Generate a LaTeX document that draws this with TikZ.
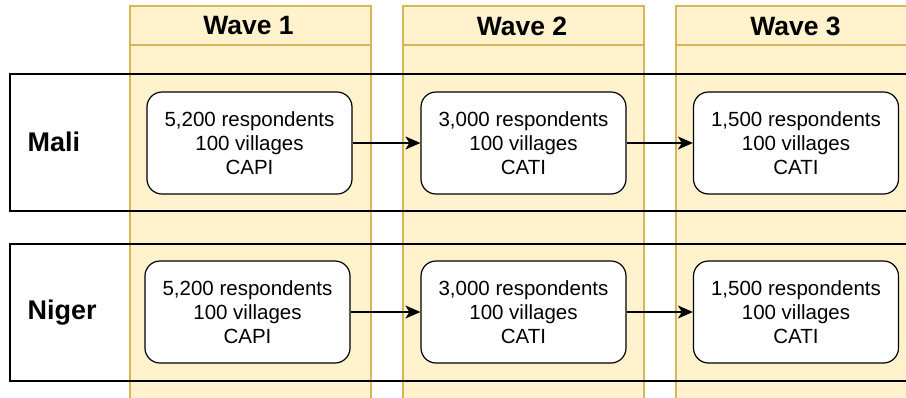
\documentclass[tikz,border=0pt]{standalone}
\usepackage{fontspec}
\setmainfont{Liberation Sans}
\usetikzlibrary{arrows.meta}
\definecolor{wfill}{HTML}{FFF2CC}
\definecolor{wdraw}{HTML}{D6B656}
\begin{document}
\begin{tikzpicture}[x=1pt,y=-1pt,
  lane/.style={fill=wfill,draw=wdraw,line width=1.2pt},
  head/.style={font=\fontsize{26.5}{30}\selectfont\bfseries,anchor=center},
  rowbox/.style={draw=black,line width=1.2pt},
  rowlabel/.style={font=\fontsize{27}{30}\selectfont\bfseries,anchor=west},
  cell/.style={draw=black,fill=white,line width=1.2pt,rounded corners=15pt,
    minimum width=205pt,minimum height=102pt,align=center,
    font=\fontsize{20.5}{24}\selectfont,inner sep=0pt},
  flow/.style={-{Stealth[length=15pt,width=13pt,inset=4pt]},line width=1.2pt}]
\useasboundingbox (0,0) rectangle (906,397);
\begin{scope}
\clip (0,0) rectangle (906,397);
% lanes
\foreach \x/\n in {130/1,403/2,676/3}{
  \draw[lane] (\x,6) rectangle (\x+241,420);
  \draw[lane] (\x,6) rectangle (\x+241,45);
}
\node[head] (w1) at (248.5,26) {Wave 1};
\node[head] (w2) at (522,26) {Wave 2};
\node[head] (w3) at (795.5,26) {Wave 3};
% rows
\draw[rowbox] (10,74) rectangle (930,211);
\draw[rowbox] (10,244) rectangle (930,381);
\end{scope}
\node[rowlabel] (mali) at (24,142) {Mali};
\node[rowlabel] (niger) at (24,313) {Niger};
% boxes
\node[cell] (m1) at (249.5,143) {5,200 respondents\\100 villages\\CAPI};
\node[cell] (m2) at (523.5,143) {3,000 respondents\\100 villages\\CATI};
\node[cell] (m3) at (796,143) {1,500 respondents\\100 villages\\CATI};
\node[cell] (n1) at (247.5,312) {5,200 respondents\\100 villages\\CAPI};
\node[cell] (n2) at (523.5,312) {3,000 respondents\\100 villages\\CATI};
\node[cell] (n3) at (796,312) {1,500 respondents\\100 villages\\CATI};
\draw[flow] (m1) -- (m2);
\draw[flow] (m2) -- (m3);
\draw[flow] (n1) -- (n2);
\draw[flow] (n2) -- (n3);
\end{tikzpicture}
\end{document}
